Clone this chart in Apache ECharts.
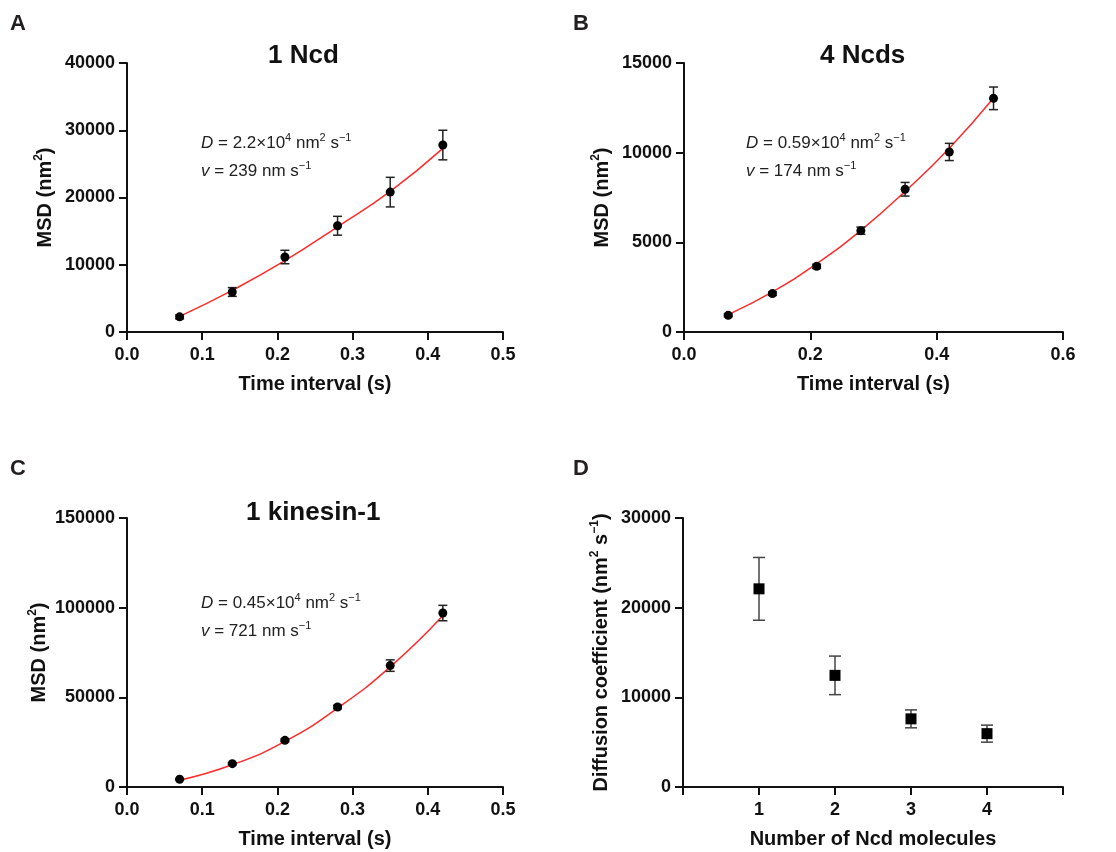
<!DOCTYPE html>
<html><head><meta charset="utf-8">
<script src="https://cdn.jsdelivr.net/npm/echarts@6/dist/echarts.min.js"></script>
<style>html,body{margin:0;padding:0;background:#fff}#c{width:1116px;height:852px}</style>
</head><body><div id="c"></div>
<script>
// Panel A: 1 Ncd
const tA = [0.07, 0.14, 0.21, 0.28, 0.35, 0.42];
const msdA = [2250, 5950, 11150, 15800, 20800, 27800];
const errA = [300, 650, 1000, 1400, 2200, 2200];
const fitA = [2330, 6200, 10600, 15650, 20900, 27300];
// Panel B: 4 Ncds
const tB = [0.07, 0.14, 0.21, 0.28, 0.35, 0.42, 0.49];
const msdB = [930, 2140, 3660, 5650, 7960, 10040, 13030];
const errB = [80, 100, 120, 200, 380, 480, 630];
const fitB = [970, 2240, 3810, 5670, 7840, 10250, 13050];
// Panel C: 1 kinesin-1
const tC = [0.07, 0.14, 0.21, 0.28, 0.35, 0.42];
const msdC = [4300, 13000, 26000, 44600, 67700, 97000];
const errC = [300, 600, 800, 1000, 3200, 4300];
const fitC = [3800, 12400, 25400, 44000, 67000, 95500];
// Panel D: diffusion coefficient vs number of Ncds
const nD = [1, 2, 3, 4];
const dD = [22100, 12450, 7600, 5950];
const errD = [3500, 2150, 1000, 950];

const FONT = 'Liberation Sans, Arial, sans-serif';
const chart = echarts.init(document.getElementById('c'));

const grids = [
  {left: 127, top: 63, width: 376, height: 269},
  {left: 684, top: 63, width: 379, height: 269},
  {left: 127, top: 518, width: 376, height: 269},
  {left: 683, top: 518, width: 380, height: 269}
];

function axisBase() {
  return {
    axisLine: {show: true, onZero: false, lineStyle: {color: '#111', width: 2}},
    axisTick: {show: true, length: 8, lineStyle: {color: '#111', width: 2}},
    splitLine: {show: false},
    axisLabel: {color: '#111', fontFamily: FONT, fontWeight: 'bold', fontSize: 18},
    nameTextStyle: {color: '#111', fontFamily: FONT, fontWeight: 'bold', fontSize: 20, lineHeight: 24,
      rich: {sup: {fontSize: 12, fontWeight: 'bold', fontFamily: FONT, color: '#111', verticalAlign: 'top', lineHeight: 12}}}
  };
}
function xAx(idx, max, interval, name, fmt) {
  const a = axisBase();
  return Object.assign(a, {type: 'value', gridIndex: idx, min: 0, max: max, interval: interval,
    name: name, nameLocation: 'middle', nameGap: 40,
    axisLabel: Object.assign(a.axisLabel, {margin: 14, formatter: fmt})});
}
function yAx(idx, max, interval, name, gap) {
  const a = axisBase();
  return Object.assign(a, {type: 'value', gridIndex: idx, min: 0, max: max, interval: interval,
    name: name, nameLocation: 'middle', nameGap: gap,
    axisLabel: Object.assign(a.axisLabel, {margin: 12, formatter: v => String(v)})});
}
const f1 = v => v.toFixed(1);

function errSeries(idx, xs, ys, es, w, col) {
  return {
    type: 'custom', xAxisIndex: idx, yAxisIndex: idx, z: 3,
    data: xs.map((x, i) => [x, ys[i] - es[i], ys[i] + es[i]]),
    renderItem: function (params, api) {
      const lo = api.coord([api.value(0), api.value(1)]);
      const hi = api.coord([api.value(0), api.value(2)]);
      const st = {stroke: col, lineWidth: 1.5};
      return {type: 'group', children: [
        {type: 'line', shape: {x1: lo[0], y1: lo[1], x2: hi[0], y2: hi[1]}, style: st},
        {type: 'line', shape: {x1: lo[0] - w, y1: lo[1], x2: lo[0] + w, y2: lo[1]}, style: st},
        {type: 'line', shape: {x1: hi[0] - w, y1: hi[1], x2: hi[0] + w, y2: hi[1]}, style: st}
      ]};
    }
  };
}
function fitSeries(idx, xs, ys) {
  return {type: 'line', xAxisIndex: idx, yAxisIndex: idx, smooth: 0.5, showSymbol: false, symbol: 'none',
    z: 2, lineStyle: {color: '#ff2a2a', width: 1.5}, data: xs.map((x, i) => [x, ys[i]])};
}
function ptSeries(idx, xs, ys, sym, size) {
  return {type: 'scatter', xAxisIndex: idx, yAxisIndex: idx, symbol: sym, symbolSize: size, z: 4,
    itemStyle: {color: '#000', opacity: 1}, data: xs.map((x, i) => [x, ys[i]])};
}

const annRich = {
  it: {fontStyle: 'italic', fontSize: 17, fontFamily: FONT, fill: '#222', lineHeight: 22},
  sup: {fontSize: 11, fontFamily: FONT, fill: '#222', verticalAlign: 'top', lineHeight: 12}
};
function ann(x, y, txt) {
  return {type: 'text', left: x, top: y, z: 10,
    style: {text: txt, fontSize: 17, fontFamily: FONT, fill: '#222', lineHeight: 22, rich: annRich}};
}
function label(x, y, txt, size) {
  return {type: 'text', left: x, top: y, z: 10,
    style: {text: txt, fontSize: size, fontWeight: 'bold', fontFamily: FONT, fill: '#231f20'}};
}
function ttl(x, y, txt) {
  return {type: 'text', left: x, top: y, z: 10,
    style: {text: txt, fontSize: 26, fontWeight: 'bold', fontFamily: FONT, fill: '#111'}};
}

chart.setOption({
  animation: false,
  grid: grids,
  xAxis: [
    xAx(0, 0.5, 0.1, 'Time interval (s)', f1),
    xAx(1, 0.6, 0.2, 'Time interval (s)', f1),
    xAx(2, 0.5, 0.1, 'Time interval (s)', f1),
    xAx(3, 5, 1, 'Number of Ncd molecules', v => (v === 0 || v === 5) ? '' : String(v))
  ],
  yAxis: [
    yAx(0, 40000, 10000, 'MSD (nm{sup|2})', 70),
    yAx(1, 15000, 5000, 'MSD (nm{sup|2})', 70),
    yAx(2, 150000, 50000, 'MSD (nm{sup|2})', 70),
    yAx(3, 30000, 10000, 'Diffusion coefficient (nm{sup|2} s{sup|\u22121})', 70)
  ],
  series: [
    fitSeries(0, tA, fitA), errSeries(0, tA, msdA, errA, 4.5, '#222'), ptSeries(0, tA, msdA, 'circle', 9),
    fitSeries(1, tB, fitB), errSeries(1, tB, msdB, errB, 4.5, '#222'), ptSeries(1, tB, msdB, 'circle', 9),
    fitSeries(2, tC, fitC), errSeries(2, tC, msdC, errC, 4.5, '#222'), ptSeries(2, tC, msdC, 'circle', 9),
    errSeries(3, nD, dD, errD, 6, '#444'), ptSeries(3, nD, dD, 'rect', 11)
  ],
  graphic: [
    label(10, 13, 'A', 22), label(573, 13, 'B', 22), label(10, 458, 'C', 22), label(573, 458, 'D', 22),
    ttl(268, 43, '1 Ncd'), ttl(820, 43, '4 Ncds'), ttl(246, 500, '1 kinesin-1'),
    ann(201, 132, '{it|D} = 2.2\u00d710{sup|4} nm{sup|2} s{sup|\u22121}'),
    ann(201, 160, '{it|v} = 239 nm s{sup|\u22121}'),
    ann(746, 132, '{it|D} = 0.59\u00d710{sup|4} nm{sup|2} s{sup|\u22121}'),
    ann(746, 160, '{it|v} = 174 nm s{sup|\u22121}'),
    ann(201, 592, '{it|D} = 0.45\u00d710{sup|4} nm{sup|2} s{sup|\u22121}'),
    ann(201, 620, '{it|v} = 721 nm s{sup|\u22121}')
  ]
});
</script></body></html>
